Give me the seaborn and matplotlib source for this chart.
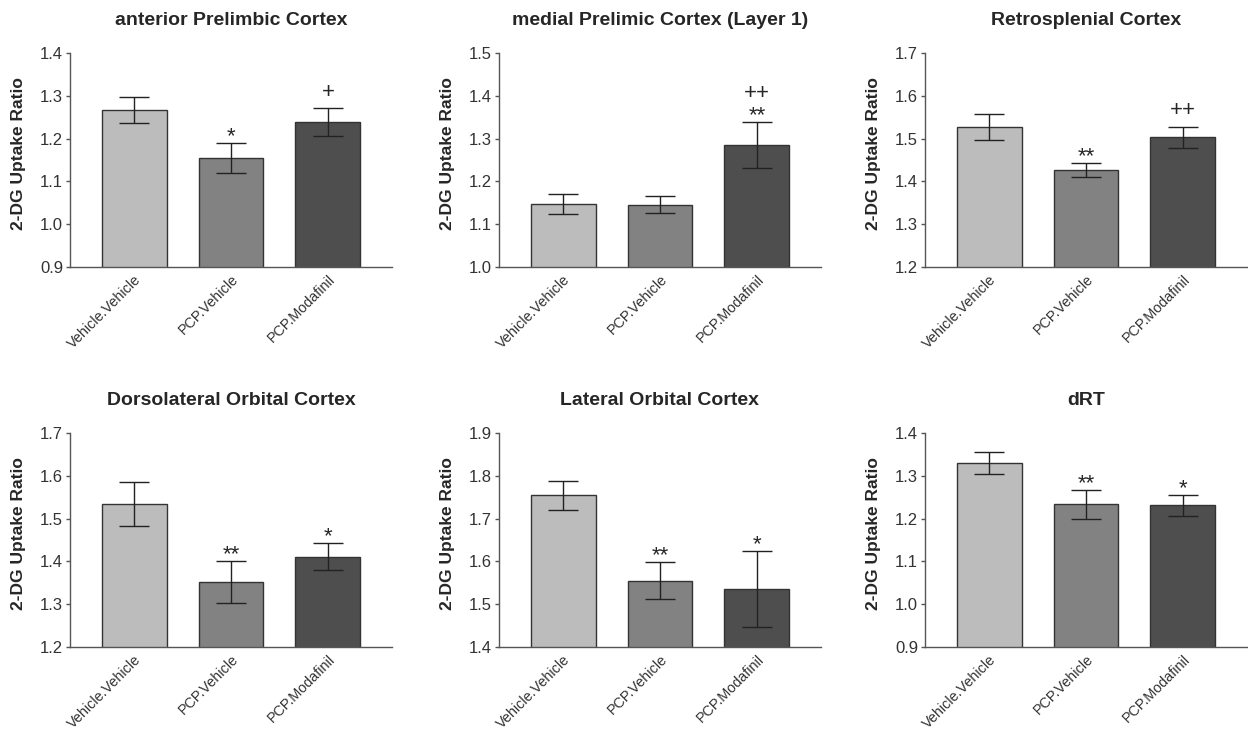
import pandas as pd
import seaborn as sns
import matplotlib.pyplot as plt

# groups and values (mean +- SEM)
groups = ['Vehicle.Vehicle', 'PCP.Vehicle', 'PCP.Modafinil']
titles = ['anterior Prelimbic Cortex', 'medial Prelimic Cortex (Layer 1)', 'Retrosplenial Cortex',
          'Dorsolateral Orbital Cortex', 'Lateral Orbital Cortex', 'dRT']

apc_mean = [1.267, 1.155, 1.239]
apc_sem = [0.031, 0.035, 0.032]
mpc_mean = [1.147, 1.146, 1.285]
mpc_sem = [0.024, 0.020, 0.054]
rsc_mean = [1.527, 1.426, 1.503]
rsc_sem = [0.030, 0.016, 0.024]
dlo_mean = [1.534, 1.351, 1.411]
dlo_sem = [0.052, 0.049, 0.031]
lo_mean = [1.754, 1.555, 1.535]
lo_sem = [0.033, 0.044, 0.089]
drt_mean = [1.330, 1.233, 1.231]
drt_sem = [0.025, 0.033, 0.024]

ylims = [(0.9, 1.4), (1.0, 1.5), (1.2, 1.7), (1.2, 1.7), (1.4, 1.9), (0.9, 1.4)]
# significance marks per bar (bottom line, top line)
marks = [[[], ['*'], ['+']],
         [[], [], ['**', '++']],
         [[], ['**'], ['++']],
         [[], ['**'], ['*']],
         [[], ['**'], ['*']],
         [[], ['**'], ['*']]]

means = [apc_mean, mpc_mean, rsc_mean, dlo_mean, lo_mean, drt_mean]
sems = [apc_sem, mpc_sem, rsc_sem, dlo_sem, lo_sem, drt_sem]

colors = ['#bcbcbc', '#828282', '#4e4e4e']

sns.set_style('ticks')
plt.rcParams['font.family'] = ['Liberation Sans', 'DejaVu Sans']

W, H = 1248, 733
fig = plt.figure(figsize=(W / 100, H / 100), dpi=100)

lefts = [70, 499, 925]
bottoms_px = [267, 647]
aw, ah = 322, 214

for i in range(6):
    r, c = divmod(i, 3)
    ax = fig.add_axes([lefts[c] / W, (H - bottoms_px[r]) / H, aw / W, ah / H])
    df = pd.DataFrame({'group': groups, 'value': means[i]})
    sns.barplot(data=df, x='group', y='value', hue='group', palette=colors,
                errorbar=None, width=0.67, edgecolor='#333333', linewidth=1,
                legend=False, ax=ax)
    ax.errorbar(x=range(3), y=means[i], yerr=sems[i], fmt='none', ecolor='#222222',
                elinewidth=1, capsize=10.8, capthick=1)
    ax.set_ylim(*ylims[i])
    ax.set_xlim(-0.66, 2.66)
    ax.set_yticks([round(ylims[i][0] + 0.1 * k, 1) for k in range(6)])
    ax.yaxis.set_major_formatter(plt.FormatStrFormatter('%.1f'))
    sns.despine(ax=ax)
    for s in ['left', 'bottom']:
        ax.spines[s].set_color('#555555')
        ax.spines[s].set_linewidth(1)
    ax.tick_params(axis='y', length=3, width=1, color='#555555', labelsize=12,
                   labelcolor='#333333', pad=2)
    ax.tick_params(axis='x', length=0, labelsize=10.4, labelcolor='#333333', pad=4)
    ax.set_xticks(range(3))
    ax.set_xticklabels(groups, rotation=45, ha='right', rotation_mode='anchor')
    ax.set_xlabel('')
    ax.set_ylabel('2-DG Uptake Ratio', fontsize=12.5, fontweight='bold')
    ax.yaxis.set_label_coords(-44 / aw, 0.53)
    ax.set_title(titles[i], fontsize=14, fontweight='bold', pad=20)

    # significance marks above the error bars
    for j in range(3):
        top = means[i][j] + sems[i][j]
        for k, mark in enumerate(marks[i][j]):
            off = (-3 if '*' in mark else 4) + 16 * k
            if k == 1:
                off = 13
            ax.annotate(mark, (j, top), xytext=(0, off), textcoords='offset points',
                        ha='center', va='bottom', fontsize=16)

fig.savefig('out.png', dpi=100)
